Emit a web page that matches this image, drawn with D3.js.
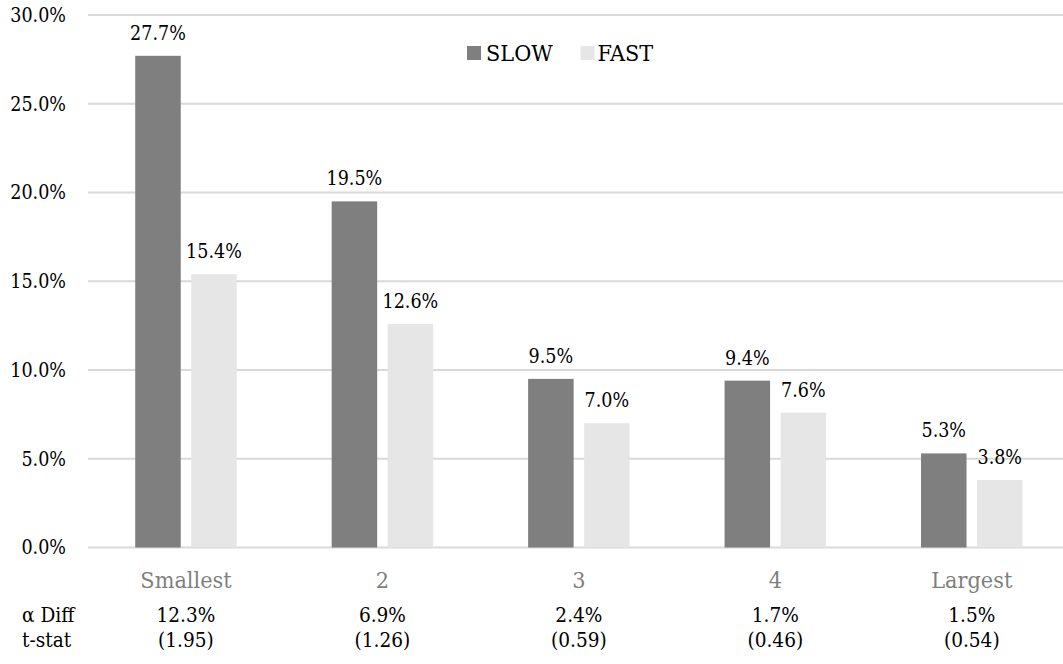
<!DOCTYPE html>
<html>
<head>
<meta charset="utf-8">
<script src="https://cdn.jsdelivr.net/npm/d3@7"></script>
<style>
  html, body { margin: 0; padding: 0; background: #fff; }
  svg { display: block; }
  text { font-family: "DejaVu Serif Condensed", "DejaVu Serif", serif; }
</style>
</head>
<body>
<svg id="chart" width="1063" height="664"></svg>
<script>
// Size quintiles and the two alpha series (fractions)
const categories = ["Smallest", "2", "3", "4", "Largest"];
const slowValues = [0.277, 0.195, 0.095, 0.094, 0.053];
const fastValues = [0.154, 0.126, 0.070, 0.076, 0.038];
const seriesNames = ["SLOW", "FAST"];
const yTicks = [0, 0.05, 0.10, 0.15, 0.20, 0.25, 0.30];
// Rows printed below the category axis
const rowLabels = ["α Diff", "t-stat"];
const alphaDiff = ["12.3%", "6.9%", "2.4%", "1.7%", "1.5%"];
const tStats = ["(1.95)", "(1.26)", "(0.59)", "(0.46)", "(0.54)"];

const W = 1063, H = 664;
const FONT = '"DejaVu Serif Condensed", "DejaVu Serif", serif';
const colors = { SLOW: "#7f7f7f", FAST: "#e6e6e6" };
const gridColor = "#d9d9d9";
const smallSize = 19.5, largeSize = 23.2, rowSize = 20.6;

const svg = d3.select("#chart");

const x = d3.scaleBand().domain(categories).range([87.75, 1070]).paddingInner(0).paddingOuter(0);
const y = d3.scaleLinear().domain([0, 0.30]).range([547.5, 15]);
const pct = d3.format(".1%");

// Horizontal gridlines (the 0% line doubles as the category axis)
svg.append("g")
  .selectAll("line")
  .data(yTicks)
  .join("line")
  .attr("x1", 88).attr("x2", W)
  .attr("y1", d => y(d)).attr("y2", d => y(d))
  .attr("stroke", gridColor)
  .attr("stroke-width", 2);

// Value axis labels
const yAxis = d3.axisLeft(y).tickValues(yTicks).tickFormat(pct).tickSize(0).tickPadding(0);
const yg = svg.append("g").attr("transform", "translate(66,0)").call(yAxis);
yg.attr("font-family", FONT);
yg.select(".domain").remove();
yg.selectAll("text")
  .attr("font-size", smallSize)
  .attr("fill", "#000");

// Bars with their value labels
const barW = 45.5;
const groups = [
  { name: "SLOW", values: slowValues, dx: -50.75 },
  { name: "FAST", values: fastValues, dx: 5.25 }
];

groups.forEach(g => {
  const data = categories.map((c, i) => ({ c, v: g.values[i] }));
  svg.append("g")
    .selectAll("rect")
    .data(data)
    .join("rect")
    .attr("x", d => x(d.c) + x.bandwidth() / 2 + g.dx)
    .attr("y", d => y(d.v))
    .attr("width", barW)
    .attr("height", d => y(0) - y(d.v))
    .attr("fill", colors[g.name]);

  svg.append("g")
    .selectAll("text")
    .data(data)
    .join("text")
    .attr("x", d => x(d.c) + x.bandwidth() / 2 + g.dx + barW / 2)
    .attr("y", d => y(d.v) - 16)
    .attr("text-anchor", "middle")
    .attr("font-size", smallSize)
    .attr("fill", "#000")
    .text(d => pct(d.v));
});

// Category labels
const xAxis = d3.axisBottom(x).tickSize(0).tickPadding(0);
const xg = svg.append("g").call(xAxis);
xg.attr("font-family", FONT);
xg.select(".domain").remove();
xg.selectAll("text")
  .attr("y", 588)
  .attr("dy", 0)
  .attr("font-size", largeSize)
  .attr("fill", "#7f7f7f");

// Alpha difference and t-statistic rows
const rows = [
  { label: rowLabels[0], values: alphaDiff, base: 622 },
  { label: rowLabels[1], values: tStats, base: 646.5 }
];
rows.forEach(r => {
  svg.append("text")
    .attr("x", 22)
    .attr("y", r.base)
    .attr("font-size", rowSize)
    .attr("fill", "#000")
    .text(r.label);
  svg.append("g")
    .selectAll("text")
    .data(categories.map((c, i) => ({ c, t: r.values[i] })))
    .join("text")
    .attr("x", d => x(d.c) + x.bandwidth() / 2)
    .attr("y", r.base)
    .attr("text-anchor", "middle")
    .attr("font-size", rowSize)
    .attr("fill", "#000")
    .text(d => d.t);
});

// Legend
const legendPos = [{ sx: 467, tx: 486 }, { sx: 580.5, tx: 597.5 }];
const legend = svg.append("g");
seriesNames.forEach((s, i) => {
  legend.append("rect")
    .attr("x", legendPos[i].sx).attr("y", 46)
    .attr("width", 14).attr("height", 14)
    .attr("fill", colors[s]);
  legend.append("text")
    .attr("x", legendPos[i].tx).attr("y", 60.5)
    .attr("font-size", largeSize)
    .attr("fill", "#000")
    .text(s);
});
</script>
</body>
</html>
